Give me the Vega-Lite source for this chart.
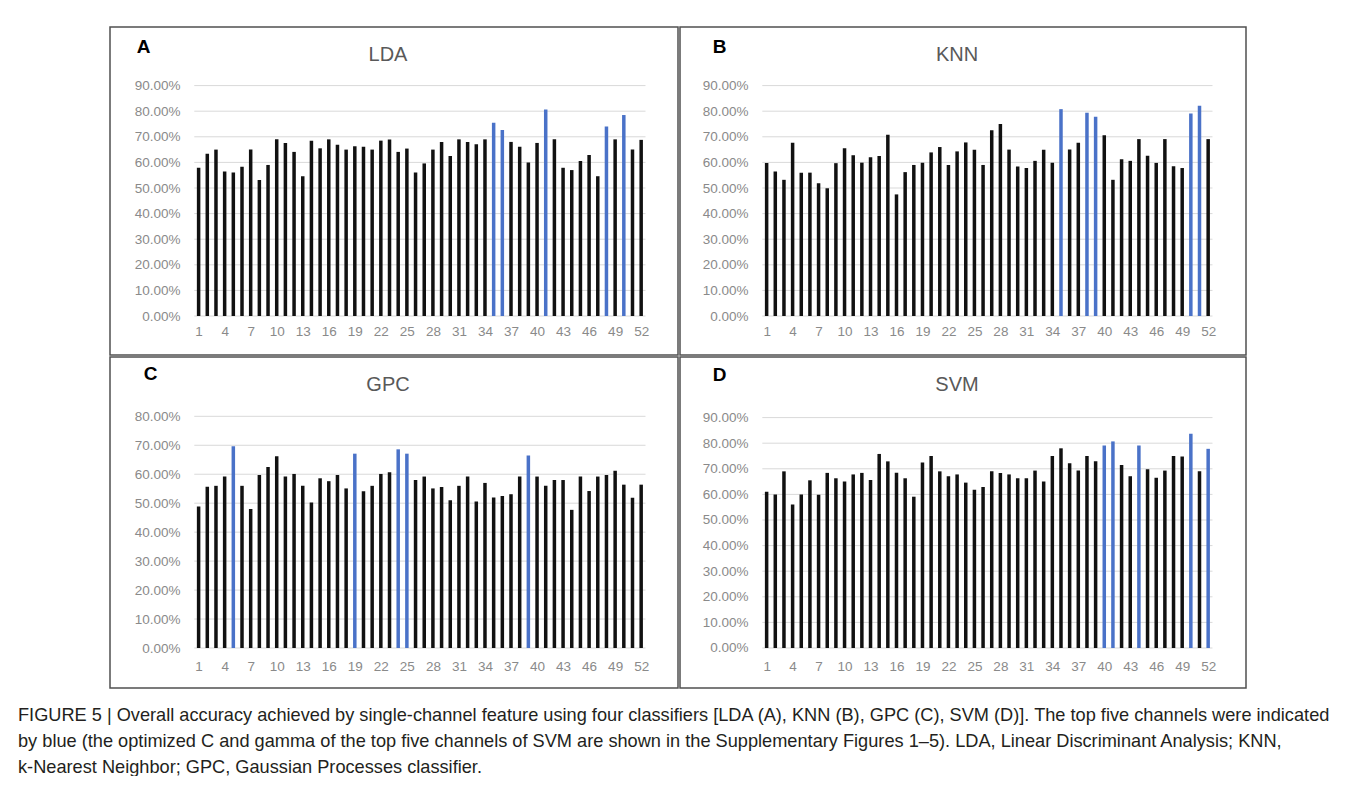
{
  "$schema": "https://vega.github.io/schema/vega-lite/v6.json",
  "background": "white",
  "padding": {"left": 18, "top": 26, "right": 0, "bottom": 0},
  "config": {
    "font": "Liberation Sans",
    "view": {"stroke": "#505050", "strokeWidth": 1.5},
    "axis": {"grid": false, "domain": false, "ticks": false, "tickSize": 0, "labelColor": "#8a8a8a", "labelFontSize": 13.5, "labelFont": "Liberation Sans", "labelOverlap": false},
    "axisX": {"labelPadding": 0, "labelBaseline": "middle", "labelOverlap": false, "labelFlush": false},
    "axisY": {"labelPadding": 0, "labelBaseline": "middle", "labelFlush": false, "labelOverlap": false, "titleAngle": 0, "titleFontSize": 19, "titleFontWeight": "bold", "titleColor": "#000000", "titleAlign": "center", "titleBaseline": "middle", "titleFont": "Liberation Sans"},
    "title": {"fontSize": 20, "fontWeight": "normal", "color": "#595959", "font": "Liberation Sans"}
  },
  "datasets": {
    "grid9": [{"v":0},{"v":0.1},{"v":0.2},{"v":0.3},{"v":0.4},{"v":0.5},{"v":0.6},{"v":0.7},{"v":0.8},{"v":0.9}],
    "grid8": [{"v":0},{"v":0.1},{"v":0.2},{"v":0.3},{"v":0.4},{"v":0.5},{"v":0.6},{"v":0.7},{"v":0.8}],
    "lda": [
      {"ch":1,"acc":0.579,"top":"n"},{"ch":2,"acc":0.634,"top":"n"},{"ch":3,"acc":0.650,"top":"n"},{"ch":4,"acc":0.564,"top":"n"},{"ch":5,"acc":0.561,"top":"n"},
      {"ch":6,"acc":0.583,"top":"n"},{"ch":7,"acc":0.650,"top":"n"},{"ch":8,"acc":0.531,"top":"n"},{"ch":9,"acc":0.590,"top":"n"},{"ch":10,"acc":0.690,"top":"n"},
      {"ch":11,"acc":0.676,"top":"n"},{"ch":12,"acc":0.641,"top":"n"},{"ch":13,"acc":0.546,"top":"n"},{"ch":14,"acc":0.685,"top":"n"},{"ch":15,"acc":0.655,"top":"n"},
      {"ch":16,"acc":0.690,"top":"n"},{"ch":17,"acc":0.669,"top":"n"},{"ch":18,"acc":0.650,"top":"n"},{"ch":19,"acc":0.663,"top":"n"},{"ch":20,"acc":0.661,"top":"n"},
      {"ch":21,"acc":0.650,"top":"n"},{"ch":22,"acc":0.685,"top":"n"},{"ch":23,"acc":0.689,"top":"n"},{"ch":24,"acc":0.641,"top":"n"},{"ch":25,"acc":0.654,"top":"n"},
      {"ch":26,"acc":0.561,"top":"n"},{"ch":27,"acc":0.596,"top":"n"},{"ch":28,"acc":0.650,"top":"n"},{"ch":29,"acc":0.680,"top":"n"},{"ch":30,"acc":0.625,"top":"n"},
      {"ch":31,"acc":0.690,"top":"n"},{"ch":32,"acc":0.680,"top":"n"},{"ch":33,"acc":0.671,"top":"n"},{"ch":34,"acc":0.690,"top":"n"},{"ch":35,"acc":0.755,"top":"y"},
      {"ch":36,"acc":0.727,"top":"y"},{"ch":37,"acc":0.680,"top":"n"},{"ch":38,"acc":0.661,"top":"n"},{"ch":39,"acc":0.600,"top":"n"},{"ch":40,"acc":0.676,"top":"n"},
      {"ch":41,"acc":0.807,"top":"y"},{"ch":42,"acc":0.690,"top":"n"},{"ch":43,"acc":0.579,"top":"n"},{"ch":44,"acc":0.570,"top":"n"},{"ch":45,"acc":0.605,"top":"n"},
      {"ch":46,"acc":0.629,"top":"n"},{"ch":47,"acc":0.546,"top":"n"},{"ch":48,"acc":0.740,"top":"y"},{"ch":49,"acc":0.690,"top":"n"},{"ch":50,"acc":0.785,"top":"y"},
      {"ch":51,"acc":0.650,"top":"n"},{"ch":52,"acc":0.688,"top":"n"}
    ],
    "knn": [
      {"ch":1,"acc":0.598,"top":"n"},{"ch":2,"acc":0.564,"top":"n"},{"ch":3,"acc":0.532,"top":"n"},{"ch":4,"acc":0.677,"top":"n"},{"ch":5,"acc":0.560,"top":"n"},
      {"ch":6,"acc":0.560,"top":"n"},{"ch":7,"acc":0.519,"top":"n"},{"ch":8,"acc":0.499,"top":"n"},{"ch":9,"acc":0.597,"top":"n"},{"ch":10,"acc":0.655,"top":"n"},
      {"ch":11,"acc":0.628,"top":"n"},{"ch":12,"acc":0.599,"top":"n"},{"ch":13,"acc":0.620,"top":"n"},{"ch":14,"acc":0.625,"top":"n"},{"ch":15,"acc":0.708,"top":"n"},
      {"ch":16,"acc":0.475,"top":"n"},{"ch":17,"acc":0.562,"top":"n"},{"ch":18,"acc":0.590,"top":"n"},{"ch":19,"acc":0.599,"top":"n"},{"ch":20,"acc":0.639,"top":"n"},
      {"ch":21,"acc":0.660,"top":"n"},{"ch":22,"acc":0.590,"top":"n"},{"ch":23,"acc":0.643,"top":"n"},{"ch":24,"acc":0.678,"top":"n"},{"ch":25,"acc":0.649,"top":"n"},
      {"ch":26,"acc":0.590,"top":"n"},{"ch":27,"acc":0.726,"top":"n"},{"ch":28,"acc":0.750,"top":"n"},{"ch":29,"acc":0.650,"top":"n"},{"ch":30,"acc":0.584,"top":"n"},
      {"ch":31,"acc":0.578,"top":"n"},{"ch":32,"acc":0.606,"top":"n"},{"ch":33,"acc":0.649,"top":"n"},{"ch":34,"acc":0.599,"top":"n"},{"ch":35,"acc":0.808,"top":"y"},
      {"ch":36,"acc":0.650,"top":"n"},{"ch":37,"acc":0.677,"top":"n"},{"ch":38,"acc":0.794,"top":"y"},{"ch":39,"acc":0.778,"top":"y"},{"ch":40,"acc":0.706,"top":"n"},
      {"ch":41,"acc":0.532,"top":"n"},{"ch":42,"acc":0.612,"top":"n"},{"ch":43,"acc":0.606,"top":"n"},{"ch":44,"acc":0.691,"top":"n"},{"ch":45,"acc":0.626,"top":"n"},
      {"ch":46,"acc":0.598,"top":"n"},{"ch":47,"acc":0.691,"top":"n"},{"ch":48,"acc":0.585,"top":"n"},{"ch":49,"acc":0.578,"top":"n"},{"ch":50,"acc":0.791,"top":"y"},
      {"ch":51,"acc":0.821,"top":"y"},{"ch":52,"acc":0.691,"top":"n"}
    ],
    "gpc": [
      {"ch":1,"acc":0.489,"top":"n"},{"ch":2,"acc":0.557,"top":"n"},{"ch":3,"acc":0.560,"top":"n"},{"ch":4,"acc":0.592,"top":"n"},{"ch":5,"acc":0.697,"top":"y"},
      {"ch":6,"acc":0.560,"top":"n"},{"ch":7,"acc":0.480,"top":"n"},{"ch":8,"acc":0.597,"top":"n"},{"ch":9,"acc":0.625,"top":"n"},{"ch":10,"acc":0.662,"top":"n"},
      {"ch":11,"acc":0.592,"top":"n"},{"ch":12,"acc":0.601,"top":"n"},{"ch":13,"acc":0.560,"top":"n"},{"ch":14,"acc":0.502,"top":"n"},{"ch":15,"acc":0.586,"top":"n"},
      {"ch":16,"acc":0.576,"top":"n"},{"ch":17,"acc":0.597,"top":"n"},{"ch":18,"acc":0.551,"top":"n"},{"ch":19,"acc":0.671,"top":"y"},{"ch":20,"acc":0.541,"top":"n"},
      {"ch":21,"acc":0.560,"top":"n"},{"ch":22,"acc":0.601,"top":"n"},{"ch":23,"acc":0.607,"top":"n"},{"ch":24,"acc":0.686,"top":"y"},{"ch":25,"acc":0.671,"top":"y"},
      {"ch":26,"acc":0.580,"top":"n"},{"ch":27,"acc":0.592,"top":"n"},{"ch":28,"acc":0.551,"top":"n"},{"ch":29,"acc":0.556,"top":"n"},{"ch":30,"acc":0.510,"top":"n"},
      {"ch":31,"acc":0.560,"top":"n"},{"ch":32,"acc":0.592,"top":"n"},{"ch":33,"acc":0.506,"top":"n"},{"ch":34,"acc":0.570,"top":"n"},{"ch":35,"acc":0.520,"top":"n"},
      {"ch":36,"acc":0.525,"top":"n"},{"ch":37,"acc":0.531,"top":"n"},{"ch":38,"acc":0.592,"top":"n"},{"ch":39,"acc":0.665,"top":"y"},{"ch":40,"acc":0.592,"top":"n"},
      {"ch":41,"acc":0.560,"top":"n"},{"ch":42,"acc":0.580,"top":"n"},{"ch":43,"acc":0.580,"top":"n"},{"ch":44,"acc":0.477,"top":"n"},{"ch":45,"acc":0.592,"top":"n"},
      {"ch":46,"acc":0.542,"top":"n"},{"ch":47,"acc":0.592,"top":"n"},{"ch":48,"acc":0.597,"top":"n"},{"ch":49,"acc":0.612,"top":"n"},{"ch":50,"acc":0.564,"top":"n"},
      {"ch":51,"acc":0.519,"top":"n"},{"ch":52,"acc":0.564,"top":"n"}
    ],
    "svm": [
      {"ch":1,"acc":0.610,"top":"n"},{"ch":2,"acc":0.600,"top":"n"},{"ch":3,"acc":0.690,"top":"n"},{"ch":4,"acc":0.561,"top":"n"},{"ch":5,"acc":0.600,"top":"n"},
      {"ch":6,"acc":0.655,"top":"n"},{"ch":7,"acc":0.599,"top":"n"},{"ch":8,"acc":0.684,"top":"n"},{"ch":9,"acc":0.663,"top":"n"},{"ch":10,"acc":0.650,"top":"n"},
      {"ch":11,"acc":0.678,"top":"n"},{"ch":12,"acc":0.684,"top":"n"},{"ch":13,"acc":0.656,"top":"n"},{"ch":14,"acc":0.758,"top":"n"},{"ch":15,"acc":0.729,"top":"n"},
      {"ch":16,"acc":0.685,"top":"n"},{"ch":17,"acc":0.663,"top":"n"},{"ch":18,"acc":0.591,"top":"n"},{"ch":19,"acc":0.725,"top":"n"},{"ch":20,"acc":0.750,"top":"n"},
      {"ch":21,"acc":0.690,"top":"n"},{"ch":22,"acc":0.671,"top":"n"},{"ch":23,"acc":0.678,"top":"n"},{"ch":24,"acc":0.646,"top":"n"},{"ch":25,"acc":0.618,"top":"n"},
      {"ch":26,"acc":0.629,"top":"n"},{"ch":27,"acc":0.690,"top":"n"},{"ch":28,"acc":0.684,"top":"n"},{"ch":29,"acc":0.678,"top":"n"},{"ch":30,"acc":0.663,"top":"n"},
      {"ch":31,"acc":0.663,"top":"n"},{"ch":32,"acc":0.693,"top":"n"},{"ch":33,"acc":0.650,"top":"n"},{"ch":34,"acc":0.750,"top":"n"},{"ch":35,"acc":0.780,"top":"n"},
      {"ch":36,"acc":0.722,"top":"n"},{"ch":37,"acc":0.693,"top":"n"},{"ch":38,"acc":0.750,"top":"n"},{"ch":39,"acc":0.729,"top":"n"},{"ch":40,"acc":0.791,"top":"y"},
      {"ch":41,"acc":0.807,"top":"y"},{"ch":42,"acc":0.715,"top":"n"},{"ch":43,"acc":0.671,"top":"n"},{"ch":44,"acc":0.791,"top":"y"},{"ch":45,"acc":0.698,"top":"n"},
      {"ch":46,"acc":0.665,"top":"n"},{"ch":47,"acc":0.693,"top":"n"},{"ch":48,"acc":0.750,"top":"n"},{"ch":49,"acc":0.748,"top":"n"},{"ch":50,"acc":0.837,"top":"y"},
      {"ch":51,"acc":0.690,"top":"n"},{"ch":52,"acc":0.778,"top":"y"}
    ]
  },
  "title": {
    "text": [
      "FIGURE 5 | Overall accuracy achieved by single-channel feature using four classifiers [LDA (A), KNN (B), GPC (C), SVM (D)]. The top five channels were indicated",
      "by blue (the optimized C and gamma of the top five channels of SVM are shown in the Supplementary Figures 1–5). LDA, Linear Discriminant Analysis; KNN,",
      "k-Nearest Neighbor; GPC, Gaussian Processes classifier."
    ],
    "orient": "bottom",
    "anchor": "start",
    "frame": "group",
    "baseline": "top",
    "offset": 18,
    "dx": -92,
    "fontSize": 18.2,
    "lineHeight": 26,
    "fontWeight": "normal",
    "color": "#231f20",
    "font": "Liberation Sans"
  },
  "spacing": 0,
  "resolve": {"scale": {"x": "independent", "y": "independent"}, "axis": {"x": "independent", "y": "independent"}},
  "vconcat": [
    {
      "spacing": 0,
      "resolve": {"scale": {"x": "independent", "y": "independent"}, "axis": {"x": "independent", "y": "independent"}},
      "hconcat": [
        {
          "width": 568, "height": 328,
          "title": {"text": "LDA", "offset": -48, "baseline": "middle", "dx": -6},
          "layer": [
            {"data": {"name": "grid9"}, "mark": {"type": "rule", "color": "#d9d9d9", "strokeWidth": 1},
             "encoding": {
               "y": {"field": "v", "type": "quantitative",
                     "axis": {"values": [0,0.1,0.2,0.3,0.4,0.5,0.6,0.7,0.8,0.9], "format": ".2%", "offset": -70, "title": "A", "titleX": -37, "titleY": 19, "labelOverlap": false}},
               "x": {"datum": 0.5, "axis": {"values": [1,4,7,10,13,16,19,22,25,28,31,34,37,40,43,46,49,52], "format": "d", "offset": -24, "title": null, "labelOverlap": false}},
               "x2": {"datum": 52.5}}},
            {"data": {"name": "lda"}, "mark": {"type": "bar", "width": 3.5},
             "encoding": {
               "x": {"field": "ch", "type": "quantitative", "scale": {"domain": [-8.636, 55.668], "nice": false, "zero": false},
                     "axis": {"values": [1,4,7,10,13,16,19,22,25,28,31,34,37,40,43,46,49,52], "format": "d", "offset": -24, "title": null, "labelOverlap": false}},
               "y": {"field": "acc", "type": "quantitative", "scale": {"domain": [-0.1522, 1.1288], "nice": false, "zero": false},
                     "axis": {"values": [0,0.1,0.2,0.3,0.4,0.5,0.6,0.7,0.8,0.9], "format": ".2%", "offset": -70, "title": "A", "titleX": -37, "titleY": 19, "labelOverlap": false}},
               "y2": {"datum": 0},
               "color": {"field": "top", "type": "nominal", "scale": {"domain": ["n", "y"], "range": ["#111111", "#4a72c8"]}, "legend": null}
             }}
          ]
        },
        {
          "width": 566, "height": 328,
          "title": {"text": "KNN", "offset": -48, "baseline": "middle", "dx": -6},
          "layer": [
            {"data": {"name": "grid9"}, "mark": {"type": "rule", "color": "#d9d9d9", "strokeWidth": 1},
             "encoding": {
               "y": {"field": "v", "type": "quantitative",
                     "axis": {"values": [0,0.1,0.2,0.3,0.4,0.5,0.6,0.7,0.8,0.9], "format": ".2%", "offset": -68, "title": "B", "titleX": -29, "titleY": 19, "labelOverlap": false}},
               "x": {"datum": 0.5, "axis": {"values": [1,4,7,10,13,16,19,22,25,28,31,34,37,40,43,46,49,52], "format": "d", "offset": -24, "title": null, "labelOverlap": false}},
               "x2": {"datum": 52.5}}},
            {"data": {"name": "knn"}, "mark": {"type": "bar", "width": 3.5},
             "encoding": {
               "x": {"field": "ch", "type": "quantitative", "scale": {"domain": [-8.43, 55.793], "nice": false, "zero": false},
                     "axis": {"values": [1,4,7,10,13,16,19,22,25,28,31,34,37,40,43,46,49,52], "format": "d", "offset": -24, "title": null, "labelOverlap": false}},
               "y": {"field": "acc", "type": "quantitative", "scale": {"domain": [-0.1522, 1.1288], "nice": false, "zero": false},
                     "axis": {"values": [0,0.1,0.2,0.3,0.4,0.5,0.6,0.7,0.8,0.9], "format": ".2%", "offset": -68, "title": "B", "titleX": -29, "titleY": 19, "labelOverlap": false}},
               "y2": {"datum": 0},
               "color": {"field": "top", "type": "nominal", "scale": {"domain": ["n", "y"], "range": ["#111111", "#4a72c8"]}, "legend": null}
             }}
          ]
        }
      ]
    },
    {
      "spacing": 0,
      "resolve": {"scale": {"x": "independent", "y": "independent"}, "axis": {"x": "independent", "y": "independent"}},
      "hconcat": [
        {
          "width": 568, "height": 331,
          "title": {"text": "GPC", "offset": -48, "baseline": "middle", "dx": -6},
          "layer": [
            {"data": {"name": "grid8"}, "mark": {"type": "rule", "color": "#d9d9d9", "strokeWidth": 1},
             "encoding": {
               "y": {"field": "v", "type": "quantitative",
                     "axis": {"values": [0,0.1,0.2,0.3,0.4,0.5,0.6,0.7,0.8], "format": ".2%", "offset": -70, "title": "C", "titleX": -30, "titleY": 16, "labelOverlap": false}},
               "x": {"datum": 0.5, "axis": {"values": [1,4,7,10,13,16,19,22,25,28,31,34,37,40,43,46,49,52], "format": "d", "offset": -22, "title": null, "labelOverlap": false}},
               "x2": {"datum": 52.5}}},
            {"data": {"name": "gpc"}, "mark": {"type": "bar", "width": 3.5},
             "encoding": {
               "x": {"field": "ch", "type": "quantitative", "scale": {"domain": [-8.636, 55.668], "nice": false, "zero": false},
                     "axis": {"values": [1,4,7,10,13,16,19,22,25,28,31,34,37,40,43,46,49,52], "format": "d", "offset": -22, "title": null, "labelOverlap": false}},
               "y": {"field": "acc", "type": "quantitative", "scale": {"domain": [-0.1381, 1.0048], "nice": false, "zero": false},
                     "axis": {"values": [0,0.1,0.2,0.3,0.4,0.5,0.6,0.7,0.8], "format": ".2%", "offset": -70, "title": "C", "titleX": -30, "titleY": 16, "labelOverlap": false}},
               "y2": {"datum": 0},
               "color": {"field": "top", "type": "nominal", "scale": {"domain": ["n", "y"], "range": ["#111111", "#4a72c8"]}, "legend": null}
             }}
          ]
        },
        {
          "width": 566, "height": 331,
          "title": {"text": "SVM", "offset": -48, "baseline": "middle", "dx": -6},
          "layer": [
            {"data": {"name": "grid9"}, "mark": {"type": "rule", "color": "#d9d9d9", "strokeWidth": 1},
             "encoding": {
               "y": {"field": "v", "type": "quantitative",
                     "axis": {"values": [0,0.1,0.2,0.3,0.4,0.5,0.6,0.7,0.8,0.9], "format": ".2%", "offset": -68, "title": "D", "titleX": -29, "titleY": 17, "labelOverlap": false}},
               "x": {"datum": 0.5, "axis": {"values": [1,4,7,10,13,16,19,22,25,28,31,34,37,40,43,46,49,52], "format": "d", "offset": -22, "title": null, "labelOverlap": false}},
               "x2": {"datum": 52.5}}},
            {"data": {"name": "svm"}, "mark": {"type": "bar", "width": 3.5},
             "encoding": {
               "x": {"field": "ch", "type": "quantitative", "scale": {"domain": [-8.43, 55.793], "nice": false, "zero": false},
                     "axis": {"values": [1,4,7,10,13,16,19,22,25,28,31,34,37,40,43,46,49,52], "format": "d", "offset": -22, "title": null, "labelOverlap": false}},
               "y": {"field": "acc", "type": "quantitative", "scale": {"domain": [-0.15625, 1.1367], "nice": false, "zero": false},
                     "axis": {"values": [0,0.1,0.2,0.3,0.4,0.5,0.6,0.7,0.8,0.9], "format": ".2%", "offset": -68, "title": "D", "titleX": -29, "titleY": 17, "labelOverlap": false}},
               "y2": {"datum": 0},
               "color": {"field": "top", "type": "nominal", "scale": {"domain": ["n", "y"], "range": ["#111111", "#4a72c8"]}, "legend": null}
             }}
          ]
        }
      ]
    }
  ]
}
